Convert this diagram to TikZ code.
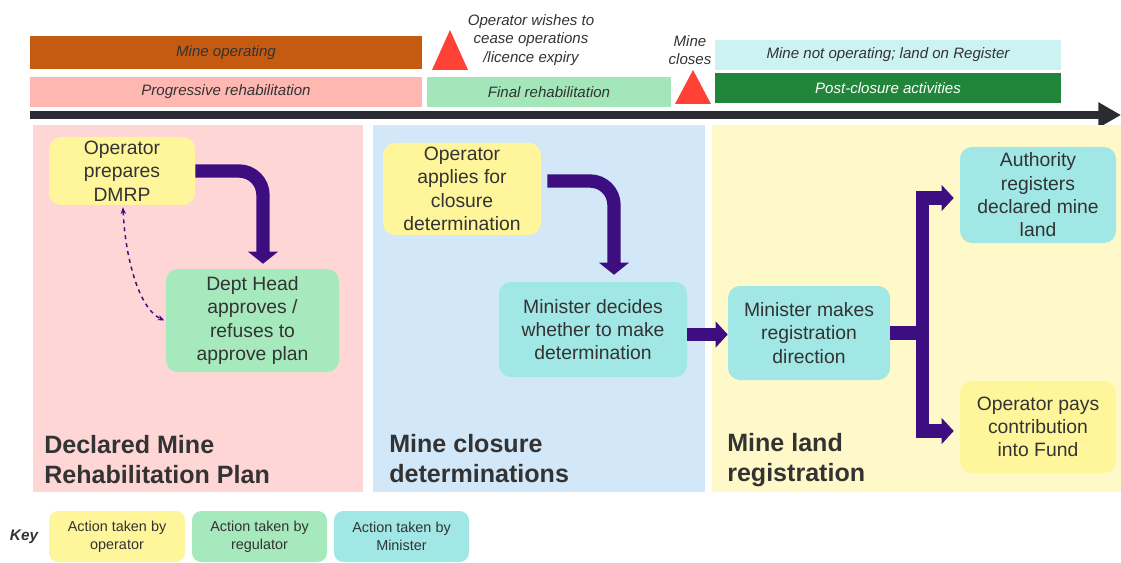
\documentclass[tikz,border=0pt]{standalone}
\usepackage{fontspec}
\setmainfont{Liberation Sans}
\usetikzlibrary{arrows.meta}
\definecolor{txt}{HTML}{333333}
\definecolor{purp}{HTML}{3D0E80}
\definecolor{opbrown}{HTML}{C55A11}
\definecolor{progpink}{HTML}{FFB7B2}
\definecolor{finalgreen}{HTML}{A3E6BA}
\definecolor{notopcyan}{HTML}{CCF2F2}
\definecolor{postgreen}{HTML}{22863A}
\definecolor{trired}{HTML}{FF4136}
\definecolor{timeline}{HTML}{2B2B33}
\definecolor{panelpink}{HTML}{FFD6D6}
\definecolor{panelblue}{HTML}{D2E7F8}
\definecolor{panelyellow}{HTML}{FFF9C9}
\definecolor{nodeyellow}{HTML}{FFF59A}
\definecolor{nodegreen}{HTML}{A6E9BC}
\definecolor{nodecyan}{HTML}{A0E7E5}
\begin{document}
\begin{tikzpicture}[x=0.75pt,y=-0.75pt,
  box/.style={draw=none, rounded corners=9pt, inner sep=0pt, align=center, text=txt,
    font=\fontsize{14.5}{17.5}\selectfont, execute at begin node={\rule{0pt}{1.0em}}},
  keybox/.style={draw=none, rounded corners=7pt, inner sep=0pt, align=center, text=txt,
    font=\fontsize{10.8}{13.5}\selectfont, minimum height=38.25pt},
  barbox/.style={draw=none, inner sep=0pt, align=center, text=txt,
    font=\fontsize{11.3}{13.5}\selectfont\itshape},
  panel/.style={draw=none, inner sep=0pt, minimum height=275.25pt},
  title/.style={anchor=base west, align=left, inner sep=0pt, text=txt,
    font=\fontsize{18.8}{22.5}\selectfont\bfseries},
  note/.style={align=center, inner sep=0pt, text=txt, font=\fontsize{11.3}{13.8}\selectfont\itshape},
  flow/.style={draw=purp, line width=10pt, rounded corners=18pt, -{Triangle[width=22pt,length=9pt]}},
  flowb/.style={draw=purp, line width=10pt, -{Triangle[width=19pt,length=9pt]}},
  trunk/.style={draw=purp, line width=10pt},
  tri/.style={fill=trired, draw=none}
]
\useasboundingbox (0,0) rectangle (1121,563);

% --- timeline bars
\node[barbox, fill=opbrown, minimum width=294pt, minimum height=24.75pt] (mop) at (226,52.5) {Mine operating};
\node[barbox, fill=progpink, minimum width=294pt, minimum height=22.5pt] (prog) at (226,92) {Progressive rehabilitation};
\node[barbox, fill=finalgreen, minimum width=183pt, minimum height=22.5pt] (fin) at (549,92) {Final rehabilitation};
\node[barbox, fill=notopcyan, minimum width=259.5pt, minimum height=22.5pt] (notop) at (888,55) {Mine not operating; land on Register};
\node[barbox, fill=postgreen, text=white, minimum width=259.5pt, minimum height=22.5pt] (post) at (888,88) {Post-closure activities};

\fill[tri] (432,70) -- (450,30) -- (468,70) -- cycle;
\fill[tri] (675,104) -- (693,70) -- (711,104) -- cycle;
\node[note] (wish) at (531,40) {Operator wishes to\\cease operations\\/licence expiry};
\node[note] (closes) at (690,50) {Mine\\closes};

% timeline arrow
\coordinate (tl0) at (30,115);
\coordinate (tl1) at (1121,115);
\draw[timeline, line width=6pt, -{Triangle[width=18pt,length=17pt]}] (tl0) -- (tl1);

% --- panels
\node[panel, fill=panelpink, minimum width=247.5pt] (p1) at (198,308.5) {};
\node[panel, fill=panelblue, minimum width=249pt] (p2) at (539,308.5) {};
\node[panel, fill=panelyellow, minimum width=306.75pt] (p3) at (916.5,308.5) {};

% --- panel 1
\node[box, fill=nodeyellow, minimum width=109.5pt, minimum height=51pt] (op1) at (122,171) {Operator\\prepares\\DMRP};
\node[box, fill=nodegreen, minimum width=129.75pt, minimum height=77.25pt] (dh) at (252.5,320.5) {Dept Head\\approves /\\refuses to\\approve plan};
\draw[flow] (op1.east) -| ([shift={(10.5,-5)}]dh.north);
\draw[purp, dashed, line width=1.1pt, {Stealth[length=5pt,width=4pt]}-{Stealth[length=5pt,width=4pt]}]
  ([shift={(1,2)}]op1.south) .. controls (125,255) and (138,308) .. ([xshift=-1]dh.west);
\node[title] (t1) at (44,483) {Declared Mine\\Rehabilitation Plan};

% --- panel 2
\node[box, fill=nodeyellow, minimum width=118.5pt, minimum height=69pt] (op2) at (462,189) {Operator\\applies for\\closure\\determination};
\node[box, fill=nodecyan, minimum width=141pt, minimum height=71.25pt] (md) at (593,329.5) {Minister decides\\whether to make\\determination};
\draw[flow] ([shift={(6,-8)}]op2.east) -| ([shift={(21,-7)}]md.north);
\node[title] (t2) at (389,482) {Mine closure\\determinations};

% --- panel 3
\node[box, fill=nodecyan, minimum width=121.5pt, minimum height=70.5pt] (mm) at (809,333) {Minister makes\\registration\\direction};
\node[box, fill=nodecyan, minimum width=117pt, minimum height=72pt] (auth) at (1038,195) {Authority\\registers\\declared mine\\land};
\node[box, fill=nodeyellow, minimum width=117pt, minimum height=69pt] (opf) at (1038,427) {Operator pays\\contribution\\into Fund};
\draw[flowb] ([shift={(0,5)}]md.east) -- ([shift={(0,5)}]md.east -| mm.west);
\coordinate (j) at ([xshift=24pt]mm.east);
\draw[trunk] (mm.east) -- (j);
\draw[flowb] (j) |- ([shift={(-6,3)}]auth.west);
\draw[flowb] (j) |- ([shift={(-6,4)}]opf.west);
\node[title] (t3) at (727,481) {Mine land\\registration};

% --- key
\node[anchor=center, inner sep=0pt, text=txt, font=\fontsize{11.5}{13.5}\selectfont\bfseries\itshape] (key) at (24,537) {Key};
\node[keybox, fill=nodeyellow, minimum width=102pt] (k1) at (117,536.5) {Action taken by\\operator};
\node[keybox, fill=nodegreen, minimum width=101.25pt] (k2) at (259.5,536.5) {Action taken by\\regulator};
\node[keybox, fill=nodecyan, minimum width=101.25pt] (k3) at (401.5,536.5) {Action taken by\\Minister};
\end{tikzpicture}
\end{document}
